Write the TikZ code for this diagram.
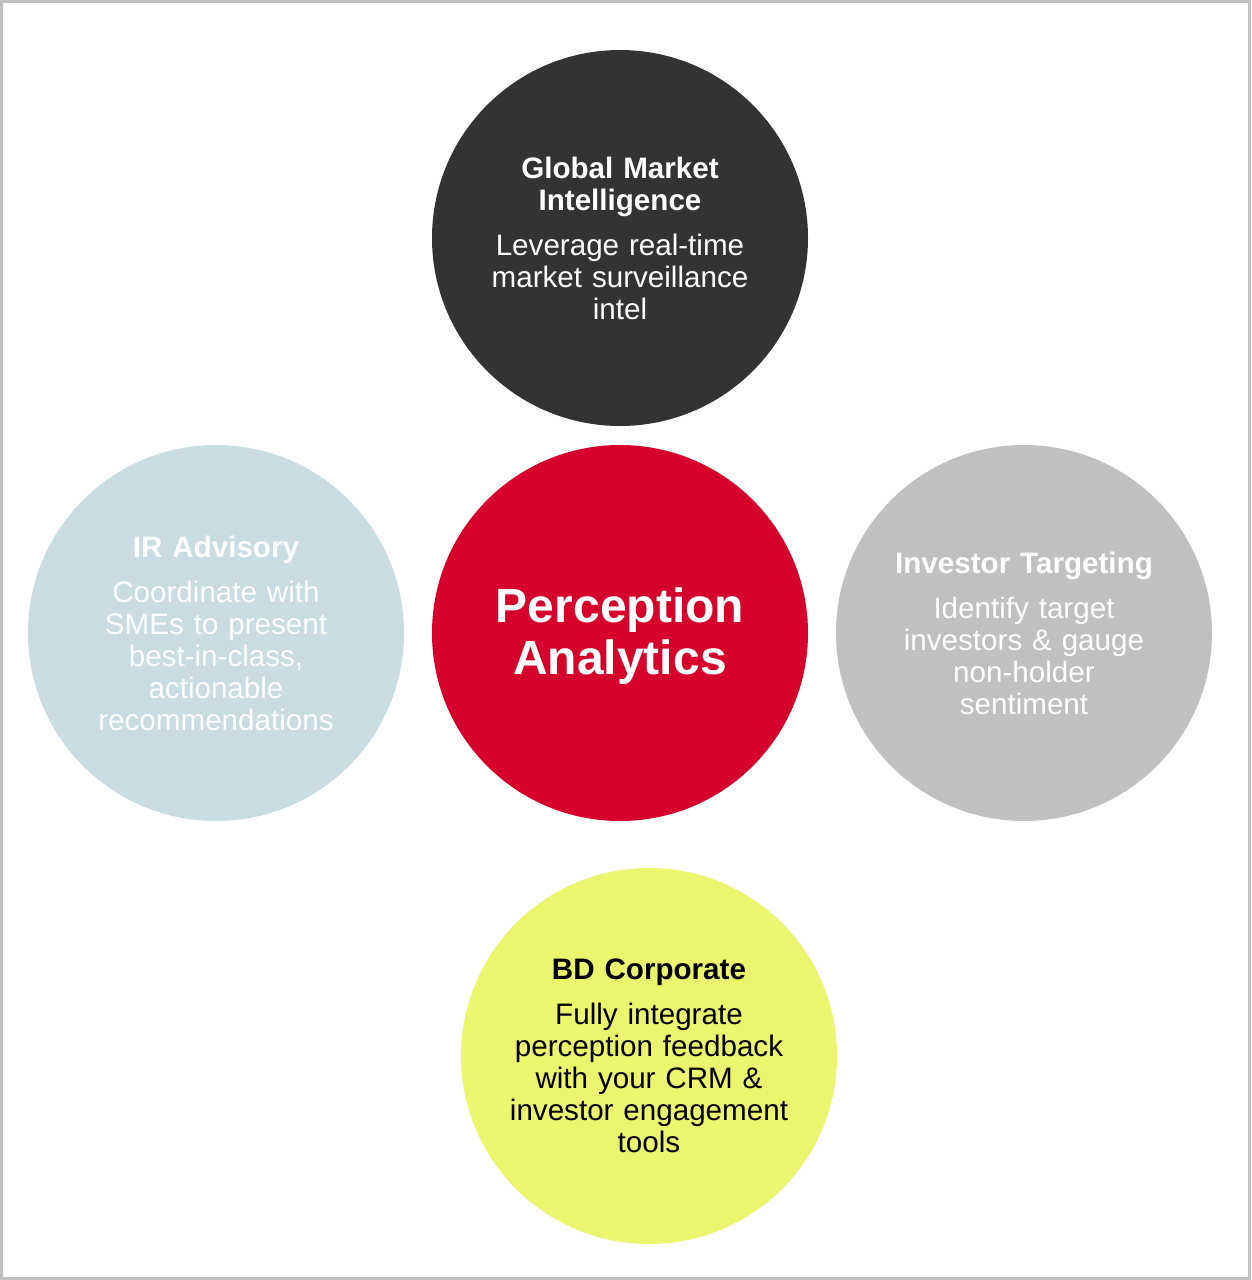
\documentclass[tikz,border=0pt]{standalone}
\usepackage{fontspec}
\setmainfont{Liberation Sans}
\definecolor{cdark}{HTML}{333333}
\definecolor{cred}{HTML}{D5002B}
\definecolor{cblue}{HTML}{C8DCE1}
\definecolor{cgray}{HTML}{C0C0C0}
\definecolor{cyellow}{HTML}{EBF56E}
\definecolor{cframe}{HTML}{C0C0C0}
\tikzset{
  bubble/.style={circle, minimum size=376pt, inner sep=0pt},
  btext/.style={inner sep=0pt, text width=360pt, align=center, font=\fontsize{29.6}{32}\selectfont},
}
\newcommand{\ttl}[1]{\textbf{#1}}
\begin{document}
\begin{tikzpicture}[x=1pt,y=-1pt]
\useasboundingbox (0,0) rectangle (1251,1280);
\fill[white] (0,0) rectangle (1251,1280);
\draw[cframe, line width=3pt] (1.5,1.5) rectangle (1249.5,1278.5);
\node[bubble, fill=cdark] (gmi) at (620,238) {};
\node[btext, text=white] (gmitext) at (gmi.center)
  {\ttl{Global Market\\Intelligence}\\[13pt]Leverage real-time\\market surveillance\\intel};
\node[bubble, fill=cred] (pa) at (620,633) {};
\node[btext, text=white, font=\fontsize{48}{52}\selectfont\bfseries] (patext) at (620,636)
  {Perception\\Analytics};
\node[bubble, fill=cblue] (ir) at (216,633) {};
\node[btext, text=white] (irtext) at (ir.center)
  {\ttl{IR Advisory}\\[13pt]Coordinate with\\SMEs to present\\best-in-class,\\actionable\\recommendations};
\node[bubble, fill=cgray] (it) at (1024,633) {};
\node[btext, text=white] (ittext) at (it.center)
  {\ttl{Investor Targeting}\\[13pt]Identify target\\investors \& gauge\\non-holder\\sentiment};
\node[bubble, fill=cyellow] (bd) at (649,1056) {};
\node[btext, text=black] (bdtext) at (bd.center)
  {\ttl{BD Corporate}\\[13pt]Fully integrate\\perception feedback\\with your CRM \&\\investor engagement\\tools};
\end{tikzpicture}
\end{document}
